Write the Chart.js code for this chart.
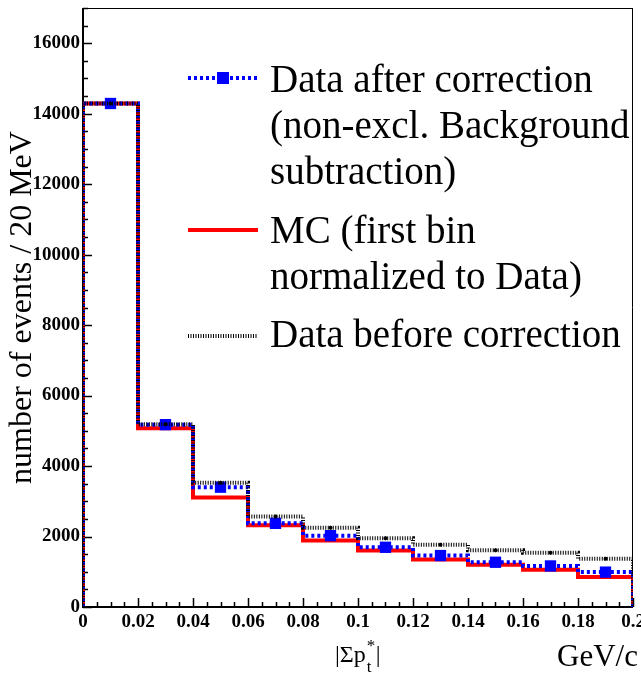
<!DOCTYPE html>
<html>
<head>
<meta charset="utf-8">
<script src="https://cdn.jsdelivr.net/npm/chart.js@4/dist/chart.umd.min.js"></script>
<style>
  body { margin: 0; background: #fff; }
  #wrap { position: relative; width: 641px; height: 675px; font-family: "Liberation Serif", "Times New Roman", serif; color: #000; }
  #beeChart { position: absolute; left: 0; top: 0; }
  .leg { position: absolute; left: 270px; font-size: 39px; line-height: 46px; white-space: nowrap; }
  #unit { position: absolute; left: 557px; top: 640px; font-size: 31px; line-height: 31px; }
  #xname { position: absolute; left: 335px; top: 642px; font-size: 24px; line-height: 24px; white-space: nowrap; }
  .ss { position: relative; display: inline-block; width: 10px; }
  .ss span { position: absolute; left: 1px; font-size: 17px; line-height: 17px; }
</style>
</head>
<body>
<div id="wrap">
  <canvas id="beeChart" width="641" height="675"></canvas>
  <div class="leg" style="top:56px">Data after correction<br>(non-excl. Background<br>subtraction)</div>
  <div class="leg" style="top:207px">MC (first bin<br>normalized to Data)</div>
  <div class="leg" style="top:311px">Data before correction</div>
  <div id="xname">|&Sigma;p<span class="ss"><span style="top:-25px">*</span><span style="top:-4px">t</span></span>|</div>
  <div id="unit">GeV/c</div>
</div>
<script>
// bin edges of |sum pt*| (GeV/c), 20 MeV bins
const binEdges = [0, 0.02, 0.04, 0.06, 0.08, 0.1, 0.12, 0.14, 0.16, 0.18, 0.2];

// events per bin
const dataAfter  = [14290, 5175, 3400, 2375, 2025, 1695, 1460, 1270, 1165, 990];
const mcNorm     = [14290, 5070, 3110, 2320, 1890, 1605, 1350, 1200, 1060, 850];
const dataBefore = [14290, 5190, 3525, 2565, 2250, 1950, 1770, 1610, 1540, 1370];

// labelled ticks
const xTickValues = [0, 0.02, 0.04, 0.06, 0.08, 0.1, 0.12, 0.14, 0.16, 0.18, 0.2];
const yTickValues = [0, 2000, 4000, 6000, 8000, 10000, 12000, 14000, 16000];

const yTitle = "number of events / 20 MeV";

// histogram outline: start and end on zero like ROOT does
function outline(vals) {
  const pts = [{ x: binEdges[0], y: 0 }];
  vals.forEach(function(v, i) {
    pts.push({ x: binEdges[i], y: v });
    pts.push({ x: binEdges[i + 1], y: v });
  });
  pts.push({ x: binEdges[vals.length], y: 0 });
  return pts;
}

function centers(vals) {
  return vals.map(function(v, i) {
    return { x: (binEdges[i] + binEdges[i + 1]) / 2, y: v };
  });
}

const serif = "'Liberation Serif', 'Times New Roman', serif";

// frame + inside ticks, ROOT style
const frameTicks = {
  id: "frameTicks",
  beforeDatasetsDraw(chart) {
    const c = chart.ctx, a = chart.chartArea;
    const xs = chart.scales.x, ys = chart.scales.y;
    c.save();
    c.strokeStyle = "#000";
    c.lineWidth = 1;
    c.beginPath();
    c.moveTo(a.left, a.top + 0.5); c.lineTo(a.right, a.top + 0.5);
    c.moveTo(a.right - 0.5, a.top); c.lineTo(a.right - 0.5, a.bottom);
    c.stroke();
    c.lineWidth = 2;
    c.beginPath();
    c.moveTo(a.left, a.top); c.lineTo(a.left, a.bottom); c.lineTo(a.right, a.bottom);
    c.stroke();
    c.lineWidth = 1.5;
    c.beginPath();
    for (let v = 0; v <= ys.max + 1; v += 500) {
      const y = Math.round(ys.getPixelForValue(v)) + 0.5;
      const len = v % 2000 === 0 ? 9 : 5;
      c.moveTo(a.left, y); c.lineTo(a.left + len, y);
    }
    for (let i = 0; i <= 40; i++) {
      const x = Math.round(xs.getPixelForValue(i * 0.005)) + 0.5;
      const len = i % 4 === 0 ? 9 : 5;
      c.moveTo(x, a.bottom); c.lineTo(x, a.bottom - len);
    }
    c.stroke();
    c.restore();
  },
  afterDraw(chart) {
    // legend symbols
    const c = chart.ctx;
    c.save();
    c.lineWidth = 4;
    c.strokeStyle = "#0000ff";
    c.setLineDash([3, 3]);
    c.beginPath(); c.moveTo(188, 78); c.lineTo(258, 78); c.stroke();
    c.fillStyle = "#0000ff";
    c.fillRect(217, 72, 12, 12);
    c.setLineDash([]);
    c.strokeStyle = "#ff0000";
    c.beginPath(); c.moveTo(188, 230); c.lineTo(258, 230); c.stroke();
    c.strokeStyle = "#000";
    c.lineWidth = 4;
    c.setLineDash([1, 1.5]);
    c.beginPath(); c.moveTo(188, 336); c.lineTo(258, 336); c.stroke();
    c.restore();
  }
};

const ctx = document.getElementById("beeChart").getContext("2d");
const chart = new Chart(ctx, {
  type: "line",
  data: {
    datasets: [
      {
        label: "Data before correction",
        data: outline(dataBefore),
        borderColor: "#000",
        borderWidth: 4,
        borderDash: [1, 1.5],
        pointRadius: 0,
        tension: 0,
        fill: false,
        order: 2
      },
      {
        label: "Data before correction (points)",
        data: centers(dataBefore),
        showLine: false,
        pointRadius: 2,
        pointBackgroundColor: "#000",
        pointBorderWidth: 0,
        order: 1
      },
      {
        label: "Data after correction",
        data: outline(dataAfter),
        borderColor: "#0000ff",
        borderWidth: 4,
        borderDash: [3, 3],
        pointRadius: 0,
        tension: 0,
        fill: false,
        order: 4
      },
      {
        label: "Data after correction (points)",
        data: centers(dataAfter),
        showLine: false,
        pointStyle: "rect",
        pointRadius: 8,
        pointBackgroundColor: "#0000ff",
        pointBorderWidth: 0,
        order: 3
      },
      {
        label: "MC (first bin normalized to Data)",
        data: outline(mcNorm),
        borderColor: "#ff0000",
        borderWidth: 4,
        pointRadius: 0,
        tension: 0,
        fill: false,
        order: 5
      }
    ]
  },
  options: {
    responsive: false,
    animation: false,
    devicePixelRatio: 1,
    layout: { padding: { top: 8, right: 4, left: 0, bottom: 0 } },
    plugins: {
      legend: { display: false },
      tooltip: { enabled: false }
    },
    scales: {
      x: {
        type: "linear",
        min: 0,
        max: 0.2,
        grid: { display: false, drawTicks: false, tickLength: 0 },
        border: { display: false },
        ticks: {
          padding: 4,
          maxRotation: 0,
          autoSkip: false,
          color: "#000",
          font: { family: serif, size: 19, weight: "bold" },
          callback: function(v) { return String(Number(v.toFixed(2))); }
        },
        afterBuildTicks: function(s) { s.ticks = xTickValues.map(function(v) { return { value: v }; }); },
        afterFit: function(s) { s.height = 68; s.paddingLeft = 0; s.paddingRight = 0; }
      },
      y: {
        min: 0,
        max: 17000,
        grid: { display: false, drawTicks: false, tickLength: 0 },
        border: { display: false },
        ticks: {
          padding: 3,
          autoSkip: false,
          color: "#000",
          font: { family: serif, size: 19, weight: "bold" },
          callback: function(v) { return String(v); }
        },
        afterBuildTicks: function(s) { s.ticks = yTickValues.map(function(v) { return { value: v }; }); },
        title: {
          display: true,
          text: yTitle,
          color: "#000",
          font: { family: serif, size: 32, weight: "normal" },
          padding: { top: 3, bottom: 0 }
        },
        afterFit: function(s) { s.width = 83; s.paddingTop = 0; s.paddingBottom = 0; }
      }
    }
  },
  plugins: [frameTicks]
});
</script>
</body>
</html>
